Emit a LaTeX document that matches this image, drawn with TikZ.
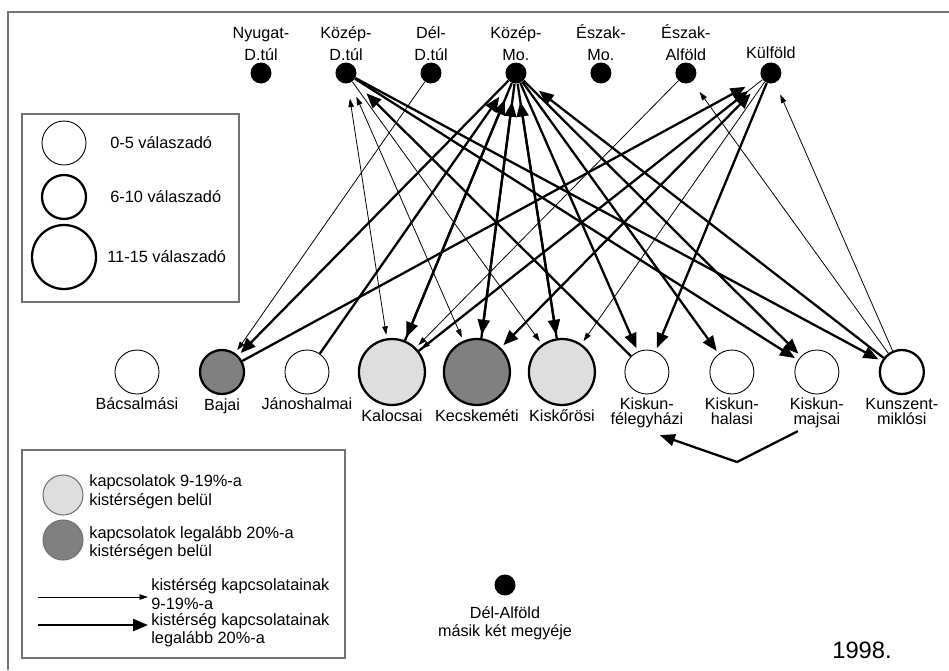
\documentclass[tikz,border=0pt]{standalone}
\usepackage{fontspec}
\setmainfont{Liberation Sans}
\usetikzlibrary{arrows.meta}
\definecolor{lightfill}{gray}{0.87}
\definecolor{darkfill}{gray}{0.5}
\definecolor{boxgray}{gray}{0.45}
\tikzstyle{region} = [circle, fill=black, minimum size=0.42cm, inner sep=0pt]
\tikzstyle{few} = [circle, draw=black, line width=0.5pt, minimum size=0.88cm, inner sep=0pt]
\tikzstyle{mid} = [circle, draw=black, line width=1.3pt, minimum size=0.88cm, inner sep=0pt]
\tikzstyle{many} = [circle, draw=black, line width=1.3pt, minimum size=1.32cm, inner sep=0pt]
\tikzstyle{toplbl} = [font=\fontsize{9.2}{11.9}\selectfont, align=center, inner sep=0pt, label distance=0.02cm]
\tikzstyle{botlbl} = [font=\fontsize{9.2}{8.5}\selectfont, align=center, inner sep=0pt]
\tikzstyle{legtxt} = [font=\fontsize{9.3}{10.6}\selectfont, align=left, inner sep=0pt, anchor=west]
\tikzstyle{weak} = [line width=0.45pt, -{Triangle[length=0.17cm,width=0.11cm]}, shorten >=2pt]
\tikzstyle{weak2} = [line width=0.45pt, {Triangle[length=0.17cm,width=0.11cm]}-{Triangle[length=0.17cm,width=0.11cm]}, shorten >=2pt]
\tikzstyle{strong} = [line width=1.3pt, -{Triangle[length=0.3cm,width=0.24cm]}, shorten >=2pt]
\tikzstyle{strong2} = [line width=1.3pt, {Triangle[length=0.3cm,width=0.24cm]}-{Triangle[length=0.3cm,width=0.24cm]}, shorten <=2pt]
\tikzstyle{far} = [shorten >=0.36cm]
\tikzstyle{near} = [shorten >=0.25cm]
\tikzstyle{legendbox} = [draw=boxgray, line width=0.6pt]

\begin{document}
\begin{tikzpicture}[x=0.02cm, y=-0.02cm, node distance=1.7cm, label distance=0.06cm]
\useasboundingbox (0,0) rectangle (949,670);
\draw[draw=boxgray, line width=0.8pt] (8,670) -- (8,12) -- (949,12);

\node (nyugat) [region, label={[toplbl]above:{Nyugat-\\[0.5pt]D.túl}}] at (261,73) {};
\node (kdtul) [region, right of=nyugat, label={[toplbl]above:{Közép-\\[0.5pt]D.túl}}] {};
\node (deldtul) [region, right of=kdtul, label={[toplbl]above:{Dél-\\[0.5pt]D.túl}}] {};
\node (kozepmo) [region, right of=deldtul, label={[toplbl]above:{Közép-\\[0.5pt]Mo.}}] {};
\node (eszakmo) [region, right of=kozepmo, label={[toplbl]above:{Észak-\\[0.5pt]Mo.}}] {};
\node (eszakalf) [region, right of=eszakmo, label={[toplbl]above:{Észak-\\[0.5pt]Alföld}}] {};
\node (kulfold) [region, right of=eszakalf, label={[toplbl, label distance=0.06cm]above:Külföld}] {};

\node (bacs) [few, label={[botlbl]below:Bácsalmási}] at (137,372) {};
\node (bajai) [mid, fill=darkfill, right of=bacs, label={[botlbl]below:Bajai}] {};
\node (janos) [few, right of=bajai, label={[botlbl]below:Jánoshalmai}] {};
\node (kalocsa) [many, fill=lightfill, right of=janos, label={[botlbl]below:Kalocsai}] {};
\node (kecs) [many, fill=darkfill, right of=kalocsa, label={[botlbl]below:Kecskeméti}] {};
\node (kiskoros) [many, fill=lightfill, right of=kecs, label={[botlbl]below:Kiskőrösi}] {};
\node (felegy) [few, right of=kiskoros, label={[botlbl, name=felegy-l]below:{Kiskun-\\félegyházi}}] {};
\node (halas) [few, right of=felegy, label={[botlbl]below:{Kiskun-\\halasi}}] {};
\node (majsa) [few, right of=halas, label={[botlbl, name=majsa-l]below:{Kiskun-\\majsai}}] {};
\node (kunszent) [mid, right of=majsa, label={[botlbl]below:{Kunszent-\\miklósi}}] {};

\node (delalf) [region, label={[botlbl, font=\fontsize{9.2}{10.4}\selectfont, label distance=0.2cm]below:{Dél-Alföld\\másik két megyéje}}] at (505,585) {};
\node (year) [font=\fontsize{13.5}{14}\selectfont] at (862,650) {1998.};

\draw[weak] (deldtul) -- (bajai);
\draw[weak2, shorten <=0.3cm] (kdtul) -- (kalocsa);
\draw[weak2, shorten <=0.3cm] (kdtul) -- (kecs);
\draw[weak] (kdtul) -- (kiskoros);
\draw[weak] (eszakalf) -- (kalocsa);
\draw[weak] (kulfold) -- (kalocsa);
\draw[weak] (kulfold) -- (kiskoros);
\draw[weak, near] (kunszent) -- (eszakalf);
\draw[weak, near] (kunszent) -- (kulfold);

\draw[strong] (kozepmo) -- (bajai);
\draw[strong] (kozepmo) -- (kalocsa);
\draw[strong] (kozepmo) -- (kecs);
\draw[strong] (kozepmo) -- (kiskoros);
\draw[strong] (kozepmo) -- (felegy);
\draw[strong] (kozepmo) -- (halas);
\draw[strong] (kozepmo) -- (majsa);
\draw[strong, far] (janos) -- (kozepmo);
\draw[strong, far] (kalocsa) -- (kozepmo);
\draw[strong, far] (kecs) -- (kozepmo);
\draw[strong, far] (kiskoros) -- (kozepmo);
\draw[strong, far] (kunszent) -- (kozepmo);
\draw[strong, far] (bajai) -- (kulfold);
\draw[strong, far] (kalocsa) -- (kulfold);
\draw[strong2, far] (kecs) -- (kulfold);
\draw[strong] (kulfold) -- (felegy);
\draw[strong] (kdtul) -- (majsa);
\draw[strong] (kdtul) -- (kunszent);
\draw[strong, far] (felegy) -- (kdtul);

\coordinate (turn) at (737,462);
\draw[strong, shorten >=0pt] ([xshift=-0.38cm, yshift=-0.06cm]majsa-l.south) -- (turn) -- ([xshift=0.26cm, yshift=-0.14cm]felegy-l.south);

\draw[legendbox] (22,114) rectangle (239,302);
\node (lfew) [few] at (64,143) {};
\node (lfew-t) [legtxt] at (110,143) {0-5 válaszadó};
\node (lmid) [mid] at (64,197) {};
\node (lmid-t) [legtxt] at (110,197) {6-10 válaszadó};
\node (lmany) [many, minimum size=1.28cm] at (64,257) {};
\node (lmany-t) [legtxt] at (107,257) {11-15 válaszadó};

\draw[legendbox] (22,450) rectangle (345,658);
\node (llight) [circle, draw=boxgray, fill=lightfill, minimum size=0.8cm, line width=0.6pt] at (63,495) {};
\node (llight-t) [legtxt] at (89,492) {kapcsolatok 9-19\%-a\\kistérségen belül};
\node (ldark) [circle, draw=boxgray, fill=darkfill, minimum size=0.8cm, line width=0.6pt] at (63,540) {};
\node (ldark-t) [legtxt] at (89,543) {kapcsolatok legalább 20\%-a\\kistérségen belül};
\coordinate (wa) at (38,597);
\coordinate (wb) at (148,597);
\draw[weak, shorten >=0pt] (wa) -- (wb);
\node (lweak-t) [legtxt] at (151,594) {kistérség kapcsolatainak\\9-19\%-a};
\coordinate (sa) at (38,625);
\coordinate (sb) at (148,625);
\draw[strong, shorten >=0pt] (sa) -- (sb);
\node (lstrong-t) [legtxt] at (151,630) {kistérség kapcsolatainak\\legalább 20\%-a};
\end{tikzpicture}
\end{document}
